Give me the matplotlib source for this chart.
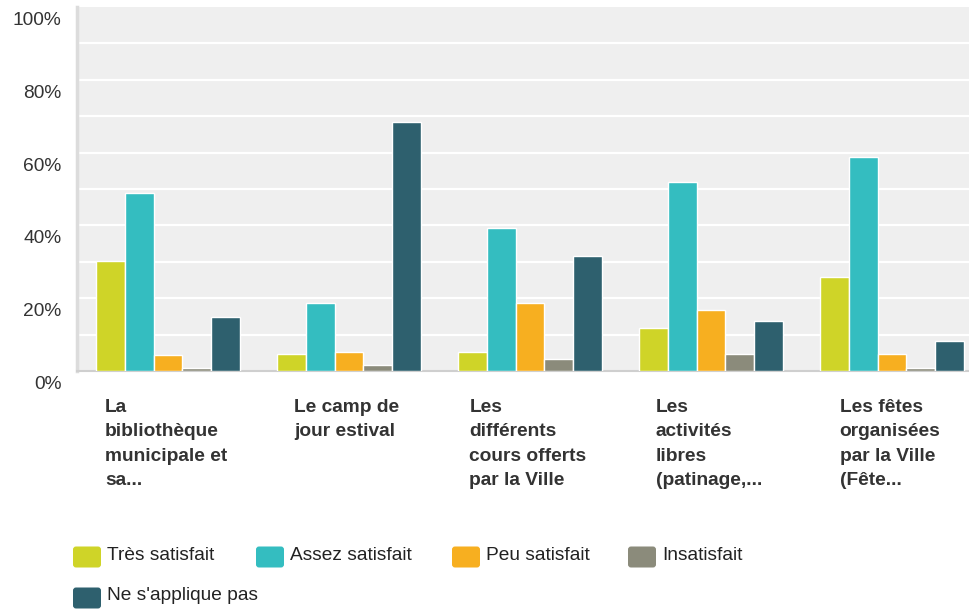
#!/usr/bin/env python3
# Satisfaction par service municipal - barres groupées

import matplotlib
matplotlib.use("Agg")
import matplotlib.pyplot as plt
import matplotlib.transforms as mtrans
from matplotlib.patches import FancyBboxPatch
import numpy as np

plt.rcParams['font.family'] = ['Liberation Sans', 'DejaVu Sans']

categories = [
    "La\nbibliothèque\nmunicipale et\nsa...",
    "Le camp de\njour estival",
    "Les\ndifférents\ncours offerts\npar la Ville",
    "Les\nactivités\nlibres\n(patinage,...",
    "Les fêtes\norganisées\npar la Ville\n(Fête...",
]
series_names = ["Très satisfait", "Assez satisfait", "Peu satisfait", "Insatisfait", "Ne s'applique pas"]
colors = ["#cfd428", "#34bdc0", "#f7af20", "#8b8b7b", "#2e606e"]

tres_satisfait = [30.3, 4.7, 5.2, 11.8, 25.9]
assez_satisfait = [48.8, 18.7, 39.4, 51.8, 58.7]
peu_satisfait = [4.4, 5.2, 18.7, 16.8, 4.7]
insatisfait = [0.8, 1.7, 3.3, 4.7, 0.8]
ne_s_applique_pas = [14.9, 68.3, 31.7, 13.8, 8.3]
values = [tres_satisfait, assez_satisfait, peu_satisfait, insatisfait, ne_s_applique_pas]

yticks = [0, 20, 40, 60, 80, 100]
ytick_labels = ["0%", "20%", "40%", "60%", "80%", "100%"]

fig = plt.figure(figsize=(9.69, 6.09), dpi=100)
ax = fig.add_axes([77 / 969, (609 - 371) / 609, 892 / 969, 364 / 609])
ax.set_facecolor("#efefef")

x = np.arange(len(categories))
w = 0.16
for k, (name, vals, c) in enumerate(zip(series_names, values, colors)):
    ax.bar(x + (k - 2) * w, vals, width=w, color=c, edgecolor="white", linewidth=1, zorder=3)

ax.set_xlim(-91 / 181, 801 / 181)
ax.set_ylim(0, 100)

# white gridlines every 10%
for g in range(10, 100, 10):
    ax.axhline(g, color="white", linewidth=1.6, zorder=1)

for s in ["top", "right"]:
    ax.spines[s].set_visible(False)
ax.spines["left"].set_color("#dcdcdc")
ax.spines["left"].set_linewidth(2.5)
ax.spines["bottom"].set_color("#cfcfcf")
ax.spines["bottom"].set_linewidth(1.5)

ax.set_xticks([])
ax.set_yticks(yticks)
ax.set_yticklabels(ytick_labels, fontsize=13.8, color="#333333")
ax.tick_params(axis="y", length=0, pad=11)
offset = mtrans.ScaledTranslation(0, -0.115, fig.dpi_scale_trans)
for lab in ax.get_yticklabels():
    lab.set_transform(lab.get_transform() + offset)

# category labels under each group
for i, cat in enumerate(categories):
    ax.annotate(cat, xy=(i, 0), xycoords=("data", "axes fraction"),
                xytext=(-2, -28), textcoords="offset pixels",
                ha="center", va="top", multialignment="left",
                fontsize=13.8, fontweight="bold", color="#333333", linespacing=1.56)

# legend (manual, rounded swatches)
sw_x = [73, 256, 452, 628, 73]
sw_y = [557, 557, 557, 557, 598]
for name, c, px, py in zip(series_names, colors, sw_x, sw_y):
    box = FancyBboxPatch(((px) / 100, (609 - py - 10.5) / 100), 0.28, 0.21,
                         boxstyle="round,pad=0,rounding_size=0.03",
                         transform=fig.dpi_scale_trans, facecolor=c, edgecolor="none")
    fig.patches.append(box)
    fig.text((px + 34) / 969, (609 - py + 2) / 609, name, ha="left", va="center",
             fontsize=13.8, color="#222222")

fig.savefig("out.png", dpi=100)
